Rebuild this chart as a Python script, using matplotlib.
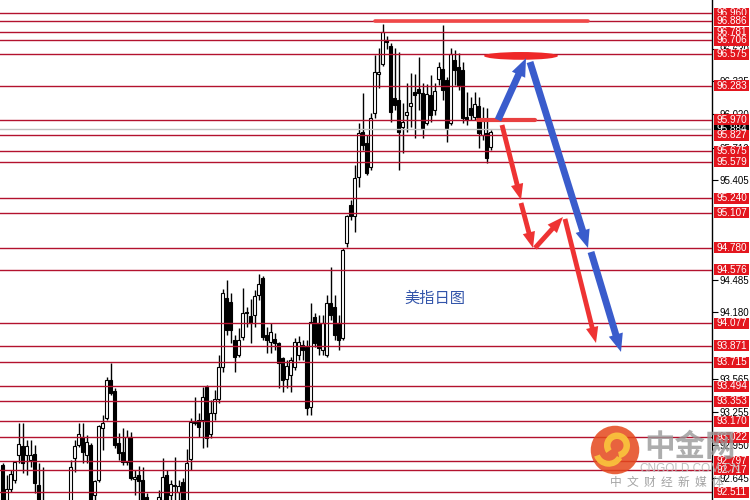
import matplotlib
matplotlib.use('Agg')
import matplotlib.pyplot as plt
from matplotlib.patches import Rectangle, Ellipse, Circle, Wedge
from matplotlib.transforms import blended_transform_factory

plt.rcParams['font.family'] = ['Liberation Sans', 'Noto Sans CJK SC', 'DejaVu Sans']

# ---------------- data (USD index daily candles) ----------------
opens = [92.763, 92.438, 92.541, 92.624, 92.856, 92.940, 92.856, 92.810, 92.866, 92.578,
         92.392, 92.253, 92.160, 92.206, 92.114, 92.179, 92.253, 92.364, 92.828, 92.949,
         93.023, 92.856, 92.949, 92.485, 92.624, 93.107, 93.200, 93.553, 93.451, 92.968,
         92.884, 92.791, 93.023, 92.633, 92.671, 92.624, 92.466, 92.392, 92.327, 92.373,
         92.438, 92.671, 92.485, 92.578, 92.513, 92.606, 92.411, 92.819, 93.163, 93.181,
         93.181, 93.488, 93.051, 93.246, 93.376, 93.673, 94.314, 94.277, 93.924, 93.785,
         93.952, 94.184, 94.147, 94.156, 94.342, 94.500, 93.971, 93.906, 93.933, 93.896,
         93.757, 93.562, 93.599, 93.673, 93.785, 93.878, 93.859, 93.302, 94.138, 94.082,
         93.831, 93.785, 94.268, 94.231, 94.082, 93.943, 94.825, 95.178, 95.075, 95.438,
         95.855, 95.753, 95.530, 96.032, 96.394, 96.487, 96.710, 96.654, 96.171, 96.152,
         95.902, 96.013, 96.097, 96.227, 96.255, 96.217, 95.939, 96.199, 96.060, 96.347,
         96.440, 96.338, 95.939, 96.524, 96.459, 96.431, 95.995, 96.078, 95.995, 96.097,
         95.828, 95.846, 95.716]
highs = [92.782, 92.671, 92.717, 92.801, 93.153, 93.153, 92.996, 92.996, 92.949, 92.782,
         92.745, 92.299, 92.271, 92.253, 92.234, 92.327, 92.392, 92.810, 92.996, 93.153,
         93.153, 93.042, 92.968, 92.624, 93.135, 93.228, 93.581, 93.711, 93.478, 93.061,
         93.107, 93.088, 93.070, 92.717, 92.754, 92.745, 92.504, 92.438, 92.411, 92.531,
         92.828, 92.717, 92.624, 92.838, 92.624, 92.643, 92.912, 93.200, 93.395, 93.246,
         93.488, 93.506, 93.367, 93.460, 93.785, 94.398, 94.481, 94.361, 93.971, 94.036,
         94.407, 94.231, 94.305, 94.388, 94.537, 94.518, 94.045, 94.082, 93.989, 93.906,
         93.766, 93.738, 93.766, 93.943, 93.961, 93.924, 93.924, 94.268, 94.175, 94.156,
         94.156, 94.342, 94.602, 94.342, 94.156, 94.778, 95.085, 95.224, 95.549, 95.939,
         96.217, 95.828, 96.032, 96.570, 96.635, 96.858, 96.747, 96.682, 96.635, 96.598,
         96.125, 96.310, 96.403, 96.394, 96.552, 96.310, 96.301, 96.385, 96.310, 96.505,
         96.849, 96.366, 96.635, 96.617, 96.589, 96.505, 96.227, 96.180, 96.227, 96.180,
         96.088, 96.078, 95.874]
lows = [92.299, 92.392, 92.513, 92.596, 92.782, 92.689, 92.671, 92.745, 92.504, 92.346,
        92.206, 92.114, 92.067, 92.021, 92.021, 92.141, 92.206, 92.327, 92.698, 92.931,
        92.782, 92.782, 92.346, 92.438, 92.606, 92.903, 93.181, 93.413, 92.921, 92.810,
        92.763, 92.763, 92.624, 92.485, 92.438, 92.392, 92.364, 92.299, 92.290, 92.346,
        92.411, 92.392, 92.438, 92.438, 92.438, 92.364, 92.392, 92.717, 93.135, 93.023,
        92.921, 92.931, 93.014, 93.181, 93.339, 93.627, 93.971, 93.896, 93.627, 93.766,
        93.924, 94.045, 93.896, 94.045, 94.295, 93.924, 93.803, 93.803, 93.831, 93.478,
        93.441, 93.478, 93.441, 93.646, 93.738, 93.738, 93.228, 93.228, 93.859, 93.785,
        93.785, 93.766, 94.110, 93.924, 93.831, 93.924, 94.788, 95.038, 94.927, 95.345,
        95.688, 95.456, 95.503, 95.985, 96.264, 96.468, 96.626, 95.948, 96.060, 95.503,
        95.660, 95.855, 95.902, 95.800, 96.060, 95.800, 95.920, 95.948, 96.013, 96.292,
        96.152, 95.763, 95.920, 96.292, 96.245, 95.939, 95.920, 95.967, 95.967, 95.707,
        95.781, 95.568, 95.688]
closes = [92.392, 92.541, 92.680, 92.791, 92.958, 92.782, 92.940, 92.856, 92.596, 92.392,
          92.253, 92.160, 92.206, 92.114, 92.179, 92.253, 92.364, 92.745, 92.940, 93.051,
          92.884, 92.977, 92.392, 92.615, 93.126, 93.153, 93.553, 93.432, 92.949, 92.875,
          92.791, 93.023, 92.643, 92.652, 92.615, 92.438, 92.392, 92.327, 92.373, 92.466,
          92.652, 92.420, 92.587, 92.568, 92.568, 92.392, 92.782, 93.163, 93.153, 93.116,
          93.395, 93.014, 93.246, 93.376, 93.673, 94.361, 94.017, 94.017, 93.766, 93.924,
          94.175, 94.175, 94.082, 94.333, 94.444, 93.952, 93.924, 93.998, 93.896, 93.711,
          93.553, 93.683, 93.738, 93.906, 93.906, 93.831, 93.293, 94.091, 93.896, 93.850,
          94.082, 94.268, 94.156, 93.971, 93.924, 94.760, 95.075, 95.075, 95.428, 95.846,
          95.735, 95.475, 95.985, 96.412, 96.412, 96.784, 96.691, 96.041, 96.106, 95.855,
          95.948, 96.041, 96.125, 96.199, 96.217, 95.893, 96.208, 96.013, 96.236, 96.459,
          96.245, 95.893, 96.580, 96.431, 96.292, 95.985, 95.967, 96.013, 96.115, 95.846,
          95.958, 95.614, 95.855]

levels = [96.960, 96.886, 96.781, 96.706, 96.575, 96.283, 95.970, 95.827, 95.675, 95.579,
          95.240, 95.107, 94.780, 94.576, 94.077, 93.871, 93.715, 93.494, 93.353, 93.170,
          93.022, 92.797, 92.717, 92.511]
# axis scale ticks that are not completely hidden by the level labels
axis_ticks = [92.645, 92.950, 93.255, 93.565, 94.180, 94.485,
              95.405, 95.710, 96.020, 96.325, 96.630]
current_price = 95.884

# annotation arrows: (start index, start price, tip index, tip price)
blue_arrows = [(123.8, 95.967, 130.8, 96.540),
               (131.8, 96.505, 146.3, 94.778),
               (147.05, 94.741, 154.55, 93.813)]
red_arrows = [(124.8, 95.920, 129.55, 95.224),
              (129.55, 95.196, 132.55, 94.778),
              (133.05, 94.778, 140.05, 95.066),
              (140.55, 95.048, 148.3, 93.896)]
chart_title = '美指日图'

# ---------------- figure ----------------
fig = plt.figure(figsize=(7.5, 5), dpi=100)
ax = fig.add_axes([0, 0, 712 / 750, 1])
ax.set_xlim(-0.7, 177.3)
ax.set_ylim(92.438, 97.081)
for s in ['top', 'bottom', 'left']:
    ax.spines[s].set_visible(False)
ax.spines['right'].set_color('black')
ax.spines['right'].set_linewidth(1)
ax.set_xticks([])
ax.yaxis.tick_right()
ax.set_yticks(axis_ticks)
ax.set_yticklabels([f'{t:.3f}' for t in axis_ticks])
ax.tick_params(axis='y', direction='out', length=4, width=0.8, pad=1.5,
               labelsize=7.0, colors='black')

# candles
for i, (o, h, l, c) in enumerate(zip(opens, highs, lows, closes)):
    ax.plot([i, i], [l, h], color='black', lw=1, zorder=2, solid_capstyle='butt')
    bull = c >= o
    ax.add_patch(Rectangle((i - 0.375, min(o, c)), 0.75, max(abs(c - o), 0.004),
                           facecolor='white' if bull else 'black',
                           edgecolor='black', lw=0.8, zorder=2.5))

# horizontal levels
for lv in levels:
    ax.axhline(lv, color='#b3122e', lw=1, zorder=3)
ax.axhline(current_price, color='#c0c0c0', lw=1, zorder=2.8)

# brush highlights
ax.plot([93.05, 146.3], [96.886, 96.886], color='#f04848', lw=2.6,
        solid_capstyle='round', zorder=4)
ax.add_patch(Ellipse((129.55, 96.562), 18.5, 0.072, facecolor='#ee2828',
                     edgecolor='none', zorder=4))
ax.plot([118.8, 133.05], [95.970, 95.970], color='#e84040', lw=3,
        solid_capstyle='round', zorder=4)

# arrows
for x0, y0, x1, y1 in blue_arrows:
    ax.annotate('', xy=(x1, y1), xytext=(x0, y0),
                arrowprops=dict(arrowstyle='simple,head_length=1.3,head_width=1.05,tail_width=0.5',
                                fc='#3a5ccc', ec='none', shrinkA=0, shrinkB=0), zorder=6)
for x0, y0, x1, y1 in red_arrows:
    ax.annotate('', xy=(x1, y1), xytext=(x0, y0),
                arrowprops=dict(arrowstyle='simple,head_length=1.15,head_width=0.9,tail_width=0.35',
                                fc='#ee3333', ec='none', shrinkA=0, shrinkB=0), zorder=6)

ax.text(108.05, 94.314, chart_title, color='#3355aa', fontsize=11,
        ha='center', va='center', family=['Noto Sans CJK SC', 'DejaVu Sans'], zorder=6)

# right-side price labels
trans = blended_transform_factory(ax.transAxes, ax.transData)
lw_ax = 35 / 712
lh = 11 / 107.7
ax.add_patch(Rectangle((1.0028, current_price - lh / 2), lw_ax, lh, transform=trans,
                       facecolor='black', edgecolor='none', clip_on=False, zorder=5))
ax.text(1.0028 + lw_ax / 2, current_price, f'{current_price:.3f}', transform=trans,
        color='white', fontsize=7.2, ha='center', va='center', clip_on=False, zorder=5.1)
for k, lv in enumerate(levels):
    ax.add_patch(Rectangle((1.0028, lv - lh / 2), lw_ax, lh, transform=trans,
                           facecolor='#e3161e', edgecolor='none', clip_on=False,
                           zorder=6 + k * 0.01))
    ax.text(1.0028 + lw_ax / 2, lv, f'{lv:.3f}', transform=trans, color='white',
            fontsize=7.2, ha='center', va='center', clip_on=False, zorder=6.005 + k * 0.01)

# watermark
lax = fig.add_axes([590 / 750, 1 - 475 / 500, 50 / 750, 50 / 500])
lax.set_xlim(-1, 1)
lax.set_ylim(-1, 1)
lax.axis('off')
lax.add_patch(Circle((0, 0), 0.97, facecolor='#e4481c', edgecolor='none', alpha=0.85))
lax.add_patch(Wedge((0.08, 0.18), 0.52, -80, 215, width=0.26, facecolor='#f9c23c',
                    edgecolor='none', alpha=0.95))
lax.add_patch(Wedge((-0.25, -0.05), 0.62, 200, 330, width=0.24, facecolor='#f9c23c',
                    edgecolor='none', alpha=0.95))
fig.text(690 / 750, 1 - 447 / 500, '中金网', fontsize=22, fontweight='bold', color='#999999',
         ha='center', va='center', alpha=0.8, family=['Noto Sans CJK SC', 'DejaVu Sans'])
fig.text(690 / 750, 1 - 469 / 500, 'CNGOLD.COM.CN', fontsize=8.5, color='#b8b8b8',
         ha='center', va='center', alpha=0.9)
fig.text(667 / 750, 1 - 482 / 500, '中  文  财  经  新  媒  体', fontsize=8.5, color='#9a9a9a',
         ha='center', va='center', alpha=0.9, family=['Noto Sans CJK SC', 'DejaVu Sans'])

fig.savefig('out.png', dpi=100, facecolor='white')
